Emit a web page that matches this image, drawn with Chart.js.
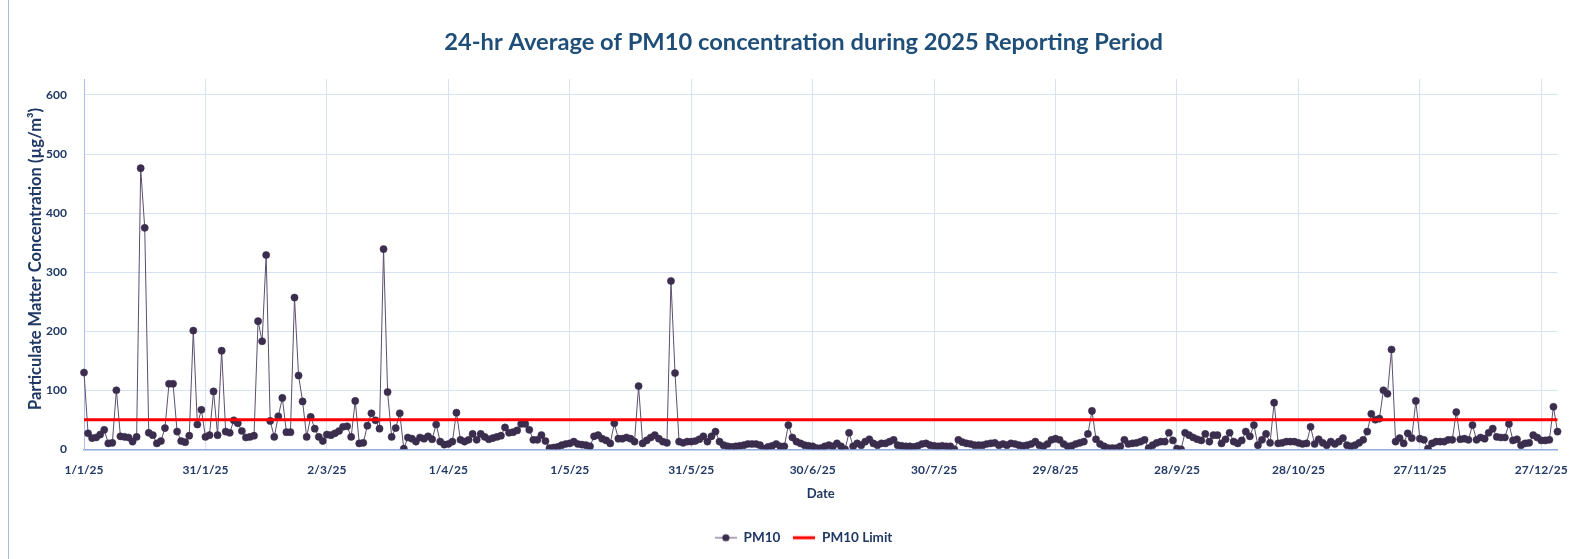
<!DOCTYPE html>
<html>
<head>
<meta charset="utf-8">
<script src="https://cdn.jsdelivr.net/npm/chart.js@4.4.1/dist/chart.umd.min.js"></script>
<style>
html,body{margin:0;padding:0;background:#ffffff;}
#wrap{position:relative;width:1585px;height:559px;overflow:hidden;}
#wrap .frame{position:absolute;left:8px;top:0;width:1px;height:559px;background:#A9BEDF;}
canvas{display:block;}
</style>
</head>
<body>
<div id="wrap"><canvas id="c" width="1585" height="559"></canvas><div class="frame"></div></div>
<script>
// ---- data (daily 24-hr average PM10, µg/m³, 1 Jan – 31 Dec 2025) ----
const dayCount = 365;
const dateLabels = [];
for (let i = 0; i < dayCount; i++) {
  const d = new Date(Date.UTC(2025, 0, 1 + i));
  dateLabels.push(d.getUTCDate() + '/' + (d.getUTCMonth() + 1) + '/' + String(d.getUTCFullYear()).slice(2));
}
const pm10Jan = [130,27,19,20,25,33,10,11,100,22,21,20,13,21,476,375,28,24,10,14,36,111,111,30,14,12,23,201,42,67,21];
const pm10Feb = [24,98,24,167,30,28,49,44,31,20,21,23,217,183,329,48,21,56,87,29,29,257,125,81,21,55,35,21];
const pm10Mar = [14,25,24,27,31,38,39,21,82,10,11,40,61,49,35,339,97,21,36,61,1,20,18,13,20,18,22,17,42,13,8];
const pm10Apr = [9,13,62,16,13,16,26,16,26,21,17,19,21,23,37,28,29,32,43,43,33,16,16,24,14,2,3,4,7,9];
const pm10May = [10,13,9,8,7,5,22,24,18,15,10,44,18,18,20,18,13,107,10,15,20,24,18,13,11,285,129,13,11,13,13];
const pm10Jun = [14,17,22,13,22,30,13,7,5,4,5,6,7,9,9,9,7,1,4,6,9,5,5,41,20,13,10,7,6,5];
const pm10Jul = [2,2,5,7,5,10,5,0,28,5,10,7,13,17,10,7,10,10,13,16,7,6,5,5,4,6,9,10,7,6,5];
const pm10Aug = [6,5,5,0,16,12,10,9,7,7,7,9,10,11,7,9,7,10,9,7,6,7,9,13,7,5,9,16,18,16,9];
const pm10Sep = [5,6,9,11,13,26,65,17,9,5,2,2,2,5,16,9,10,11,13,16,2,7,11,13,13,28,15,1,0,28];
const pm10Oct = [24,20,17,15,26,13,24,24,10,17,28,13,10,15,30,22,41,7,16,26,11,79,10,11,13,13,13,11,9,10,38];
const pm10Nov = [9,17,11,7,13,9,13,19,7,5,7,11,16,30,60,50,52,100,94,169,13,19,10,27,19,82,18,16,1,10];
const pm10Dec = [13,13,13,16,16,63,17,18,16,41,16,20,18,28,35,21,20,20,43,15,17,7,10,11,24,20,15,15,16,72,30];
const pm10Values = [].concat(pm10Jan, pm10Feb, pm10Mar, pm10Apr, pm10May, pm10Jun, pm10Jul, pm10Aug, pm10Sep, pm10Oct, pm10Nov, pm10Dec);
const pm10Limit = 50;
const yTickValues = [0, 100, 200, 300, 400, 500, 600];
const xTickEvery = 30;
const chartTitle = '24-hr Average of PM10 concentration during 2025 Reporting Period';
const yAxisTitle = 'Particulate Matter Concentration (µg/m³)';
const xAxisTitle = 'Date';

// ---- style ----
const navy = '#1F3864';
const titleBlue = '#1F4E79';
const gridColor = '#D6E1F3';
const FONT = 'Lato, "Open Sans", sans-serif';

function legendSwatch(kind) {
  const cv = document.createElement('canvas');
  cv.width = 22; cv.height = 10;
  const g = cv.getContext('2d');
  if (kind === 'pm10') {
    g.strokeStyle = '#5B4F6E'; g.lineWidth = 1;
    g.beginPath(); g.moveTo(0, 5); g.lineTo(22, 5); g.stroke();
    g.fillStyle = '#3A2D4D';
    g.beginPath(); g.arc(11, 5, 3.6, 0, Math.PI * 2); g.fill();
  } else {
    g.strokeStyle = '#FF0000'; g.lineWidth = 3;
    g.beginPath(); g.moveTo(0, 5); g.lineTo(22, 5); g.stroke();
  }
  return cv;
}

// y-axis title, placed as in the reference
const yTitlePlugin = {
  id: 'yTitlePlugin',
  afterDraw(chart) {
    const c = chart.ctx;
    c.save();
    c.translate(35.4, 259);
    c.rotate(-Math.PI / 2);
    c.font = 'bold 16.5px ' + FONT;
    c.fillStyle = navy;
    c.textAlign = 'center';
    c.textBaseline = 'middle';
    c.fillText(yAxisTitle, 0, 0);
    c.restore();
  }
};

const ctx = document.getElementById('c').getContext('2d');
new Chart(ctx, {
  type: 'line',
  data: {
    labels: dateLabels,
    datasets: [
      {
        label: 'PM10',
        data: pm10Values,
        borderColor: '#5B4F6E',
        borderWidth: 1,
        pointRadius: 3.6,
        pointBackgroundColor: '#3A2D4D',
        pointBorderColor: '#3A2D4D',
        pointBorderWidth: 0.5,
        tension: 0,
        order: 2
      },
      {
        label: 'PM10 Limit',
        data: [{x: dateLabels[0], y: pm10Limit}, {x: dateLabels[dayCount - 1], y: pm10Limit}],
        borderColor: '#FF0000',
        borderWidth: 3,
        pointRadius: 0,
        order: 1
      }
    ]
  },
  plugins: [yTitlePlugin],
  options: {
    responsive: false,
    animation: false,
    devicePixelRatio: 1,
    layout: { padding: { left: 30, right: 7.8, top: 0, bottom: 4.5 } },
    plugins: {
      title: {
        display: true,
        text: chartTitle,
        color: titleBlue,
        font: { family: FONT, size: 23.7, weight: 'bold', lineHeight: 1.2 },
        padding: { top: 28.3, bottom: 22.3 }
      },
      legend: {
        position: 'bottom',
        labels: {
          color: navy,
          font: { family: FONT, size: 13.5, weight: 'bold' },
          usePointStyle: true,
          pointStyleWidth: 22,
          padding: 13,
          generateLabels: (chart) => chart.data.datasets.map((ds, i) => ({
            text: ds.label,
            pointStyle: legendSwatch(i === 0 ? 'pm10' : 'limit'),
            fillStyle: 'rgba(0,0,0,0)',
            strokeStyle: 'rgba(0,0,0,0)',
            lineWidth: 0,
            fontColor: navy,
            datasetIndex: i,
            hidden: false
          }))
        }
      },
      tooltip: { enabled: false }
    },
    scales: {
      x: {
        type: 'category',
        offset: false,
        grid: { color: gridColor, drawTicks: false, lineWidth: 1 },
        border: { display: true, color: '#8FAADC', width: 1.5 },
        ticks: {
          autoSkip: false,
          maxRotation: 0,
          padding: 14,
          color: navy,
          font: { family: FONT, size: 12, weight: 'bold' },
          callback: function (v, i) { return i % xTickEvery === 0 ? dateLabels[i] : null; }
        },
        title: {
          display: true, text: xAxisTitle, color: navy,
          font: { family: FONT, size: 13, weight: 'bold', lineHeight: 1.2 },
          padding: { top: 0, bottom: 15.9 }
        },
        afterFit: (s) => { s.height = 68.7; }
      },
      y: {
        min: 0,
        max: 627,
        grid: { color: gridColor, drawTicks: false },
        border: { display: true, color: '#A9C0E6', width: 1 },
        afterBuildTicks: (s) => { s.ticks = yTickValues.map(v => ({ value: v })); },
        ticks: {
          padding: 17,
          color: navy,
          font: { family: FONT, size: 12, weight: 'bold' }
        },
        title: { display: false },
        afterFit: (s) => { s.width = 54; }
      },
      yRightSpace: {
        position: 'right',
        display: true,
        grid: { display: false, drawTicks: false },
        border: { display: false },
        ticks: { display: false },
        afterFit: (s) => { s.width = 19.7; }
      }
    }
  }
});
</script>
</body>
</html>
